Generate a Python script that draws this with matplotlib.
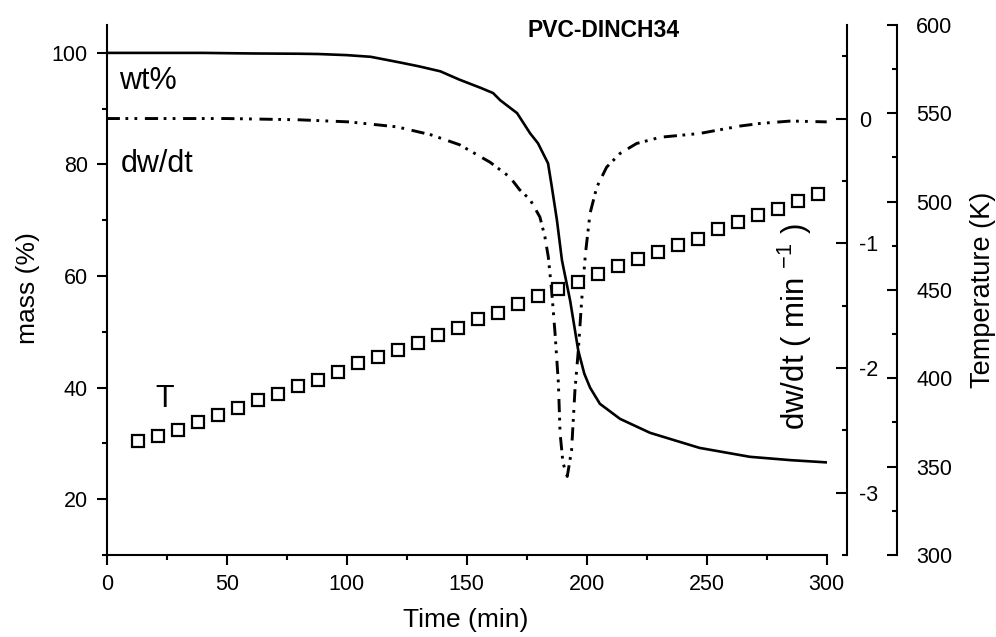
import matplotlib
matplotlib.use("Agg")
import matplotlib.pyplot as plt
from matplotlib.ticker import MultipleLocator

plt.rcParams['font.family'] = ['Liberation Sans', 'DejaVu Sans']
plt.rcParams['mathtext.fontset'] = 'custom'
plt.rcParams['mathtext.rm'] = 'Liberation Sans'
plt.rcParams['mathtext.it'] = 'Liberation Sans'
plt.rcParams['lines.scale_dashes'] = False

# ---- data ----
t_mass = [0, 20, 40, 60, 80, 88, 100, 110, 122, 130, 139, 147, 156, 161, 164, 171,
          176.4, 179.7, 183.9, 185.5, 187.6, 189.7, 193.1, 196.5, 199, 201.4, 205.5,
          213.9, 226.4, 247, 268, 285, 300]
mass = [100, 100, 100, 99.9, 99.85, 99.8, 99.6, 99.3, 98.3, 97.6, 96.7, 95.2, 93.7, 92.8,
        91.5, 89.2, 85.6, 83.8, 80.2, 75.9, 70.0, 62.8, 55.6, 46.6, 42.5, 40.0, 37.1,
        34.4, 31.9, 29.2, 27.6, 27.0, 26.6]

t_dw = [0, 50, 80, 101, 121, 135, 147, 159.7, 168, 172, 176.4, 180.5, 182.6, 184,
        185.4, 186.8, 188.2, 188.9, 190.1, 191.9, 193.7, 195.1, 196.5, 197.9, 199.5,
        201.4, 204.2, 208.3, 213.9, 220.8, 230.7, 247, 264, 272, 285, 300]
dwdt = [0, 0, -0.01, -0.027, -0.067, -0.13, -0.21, -0.35, -0.47, -0.57, -0.65, -0.79,
        -0.95, -1.11, -1.38, -1.72, -2.12, -2.52, -2.76, -2.87, -2.66, -2.18, -1.86,
        -1.46, -1.08, -0.76, -0.55, -0.39, -0.28, -0.20, -0.15, -0.12, -0.06, -0.04,
        -0.02, -0.027]

t_T = [13.2, 21.5, 29.8, 38.2, 46.5, 54.8, 63.2, 71.5, 79.8, 88.2, 96.5, 104.8, 113.2,
       121.5, 129.8, 138.2, 146.5, 154.8, 163.2, 171.5, 179.8, 188.2, 196.5, 204.8,
       213.2, 221.5, 229.8, 238.2, 246.5, 254.8, 263.2, 271.5, 279.8, 288.2, 296.5]
temp = [364.4, 367.1, 371.0, 375.4, 379.5, 383.1, 387.6, 391.3, 395.6, 399.2, 403.7,
        408.6, 412.0, 415.8, 420.2, 424.7, 428.7, 433.8, 437.2, 442.3, 446.6, 450.4,
        454.5, 459.3, 463.4, 467.4, 471.5, 475.7, 478.6, 484.8, 488.6, 492.7, 496.1,
        500.4, 504.6]

W, H = 996, 637
fig = plt.figure(figsize=(W / 100, H / 100), dpi=100)
L, R, B, T = 106.7, 826.7, 555, 25
ax = fig.add_axes([L / W, 1 - B / H, (R - L) / W, (B - T) / H])

lw_sp = 1.5
tick_fs = 15.5

# main axis: mass
ax.plot(t_mass, mass, color='black', lw=1.9, solid_joinstyle='round')
ax.set_xlim(0, 300)
ax.set_ylim(10, 105)
ax.xaxis.set_major_locator(MultipleLocator(50))
ax.xaxis.set_minor_locator(MultipleLocator(25))
ax.yaxis.set_major_locator(MultipleLocator(20))
ax.yaxis.set_minor_locator(MultipleLocator(10))
for s in ['top', 'right']:
    ax.spines[s].set_visible(False)
for s in ['left', 'bottom']:
    ax.spines[s].set_linewidth(lw_sp)
ax.tick_params(which='major', direction='out', length=7.5, width=lw_sp, labelsize=tick_fs, pad=6)
ax.tick_params(which='minor', direction='out', length=3.8, width=lw_sp)
ax.patch.set_visible(False)

# dw/dt axis
ax2 = ax.twinx()
ax2.plot(t_dw, dwdt, color='black', lw=2.1,
         linestyle=(0, (9.5, 4, 2, 4.5, 2, 5.5)), dash_capstyle='butt')
ax2.set_ylim(-3.5, 0.75)
ax2.yaxis.set_major_locator(MultipleLocator(1))
ax2.yaxis.set_minor_locator(MultipleLocator(0.5))
ax2.spines['right'].set_position(('axes', (846.7 - L) / (R - L)))
for s in ['top', 'left', 'bottom']:
    ax2.spines[s].set_visible(False)
ax2.spines['right'].set_linewidth(lw_sp)
ax2.tick_params(which='major', direction='in', length=8, width=lw_sp, labelsize=tick_fs, pad=9)
ax2.tick_params(which='minor', direction='in', length=3.8, width=lw_sp)
ax2.yaxis.set_major_formatter(plt.FuncFormatter(lambda v, p: '%d' % v))

# temperature axis
ax3 = ax.twinx()
ax3.plot(t_T, temp, linestyle='none', marker='s', markersize=8.5, markerfacecolor='white',
         markeredgecolor='black', markeredgewidth=1.6)
ax3.set_ylim(300, 600)
ax3.yaxis.set_major_locator(MultipleLocator(50))
ax3.yaxis.set_minor_locator(MultipleLocator(25))
ax3.spines['right'].set_position(('axes', (896.7 - L) / (R - L)))
for s in ['top', 'left', 'bottom']:
    ax3.spines[s].set_visible(False)
ax3.spines['right'].set_linewidth(lw_sp)
ax3.tick_params(which='major', direction='in', length=7.5, width=lw_sp, labelsize=tick_fs, pad=14)
ax3.tick_params(which='minor', direction='in', length=3.8, width=lw_sp)

# axis labels
lab_fs = 19
fig.text(27.5 / W, 1 - 288 / H, 'mass (%)', rotation=90, ha='center', va='center', fontsize=lab_fs)
fig.text(466 / W, 1 - 620 / H, 'Time (min)', ha='center', va='center', fontsize=lab_fs)
fig.text(983 / W, 1 - 290 / H, 'Temperature (K)', rotation=90, ha='center', va='center', fontsize=lab_fs + 0.5)
fig.text(795 / W, 1 - 327 / H, r'dw/dt ( min $^{-1}$ )', rotation=90, ha='center', va='center', fontsize=22.5)

# in-plot annotations
ax.text(5.25, 93.5, 'wt%', fontsize=22, va='baseline', ha='left')
ax.text(5.8, 78.6, 'dw/dt', fontsize=22, va='baseline', ha='left')
ax.text(20.1, 36.6, 'T', fontsize=22, va='baseline', ha='left')
fig.text(604 / W, 1 - 36.7 / H, 'PVC-DINCH34', fontsize=16.5, fontweight='bold', ha='center', va='baseline')

fig.savefig('out.png', dpi=100)
